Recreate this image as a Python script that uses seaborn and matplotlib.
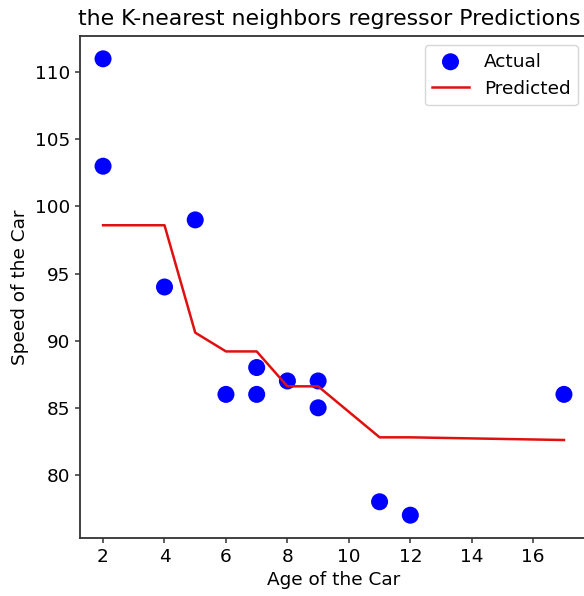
import matplotlib
matplotlib.use("Agg")
import matplotlib.pyplot as plt
import seaborn as sns
import pandas as pd

# actual data points
age = [2, 2, 4, 5, 6, 7, 7, 8, 9, 9, 11, 12, 17]
speed = [111, 103, 94, 99, 86, 88, 86, 87, 87, 85, 78, 77, 86]

# KNN predictions (sorted by age)
pred_age = [2, 4, 5, 6, 7, 8, 9, 11, 12, 17]
pred_speed = [98.6, 98.6, 90.6, 89.2, 89.2, 86.6, 86.6, 82.8, 82.8, 82.6]

df = pd.DataFrame({"age": age, "speed": speed})
pred = pd.DataFrame({"age": pred_age, "speed": pred_speed})

fig = plt.figure(figsize=(5.84, 5.96), dpi=100)
ax = fig.add_axes([80 / 584, 58 / 596, 507 / 584, 502 / 596])

sns.scatterplot(data=df, x="age", y="speed", color="blue", s=150,
                edgecolor="none", label="Actual", ax=ax)
sns.lineplot(data=pred, x="age", y="speed", color="#e01010", linewidth=1.8,
             label="Predicted", ax=ax)

ax.set_title("the K-nearest neighbors regressor Predictions", fontsize=15.8,
             pad=8, x=0.491)
ax.set_xlabel("Age of the Car", fontsize=13.3)
ax.set_ylabel("Speed of the Car", fontsize=13.3)
ax.tick_params(labelsize=13.3, width=1.1, color="#333333")
for sp in ax.spines.values():
    sp.set_linewidth(1.3)
    sp.set_color("#333333")
ax.set_xticks([2, 4, 6, 8, 10, 12, 14, 16])
ax.legend(loc="upper right", fontsize=13.3)

fig.savefig("out.png", dpi=100)
